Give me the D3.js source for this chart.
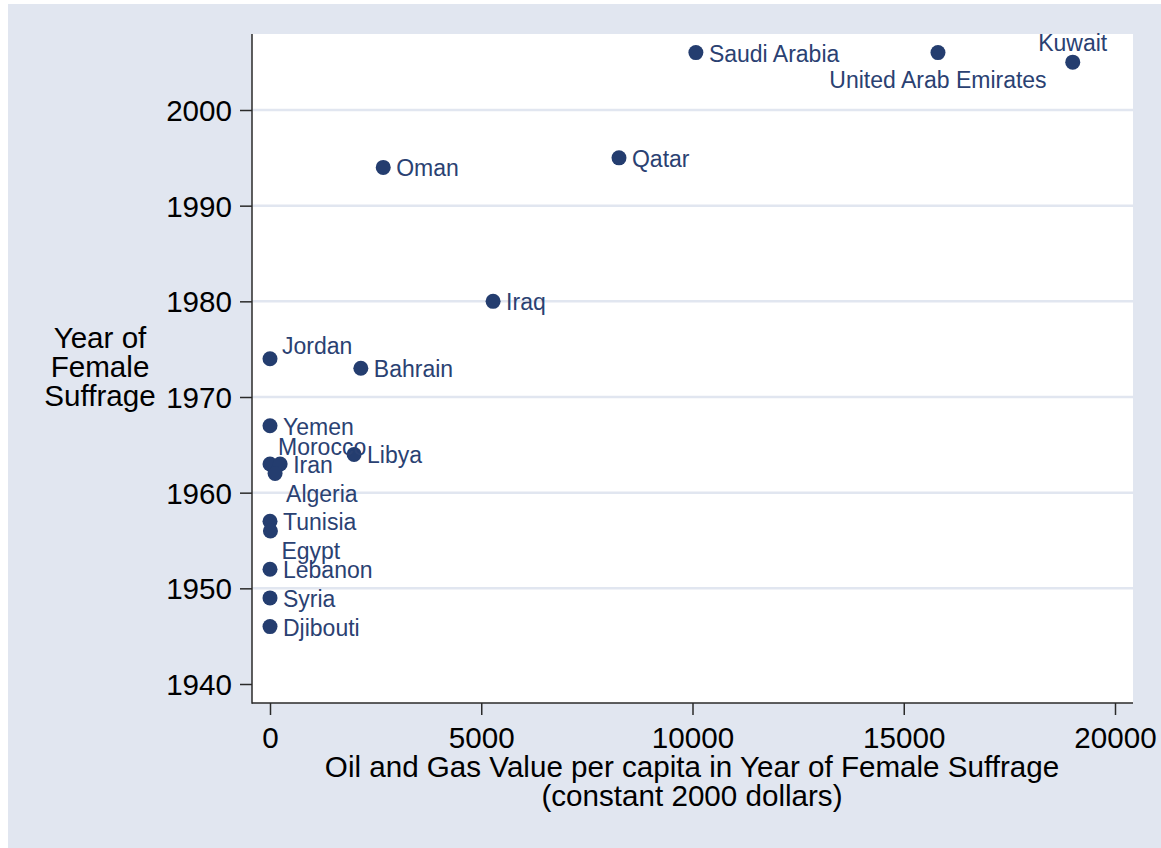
<!DOCTYPE html>
<meta charset="utf-8">
<style>
  body {
    margin: 0;
    background: white;
  }
  svg text {
    font-family: "Liberation Sans", Arial, sans-serif;
  }
  .tick-label, .axis-title {
    font-size: 29.6px;
    fill: #000;
  }
  .mlabel {
    font-size: 23px;
    fill: #2a4172;
  }
</style>
<body>
<svg id="chart" width="1161" height="848"></svg>
<script src="https://cdn.jsdelivr.net/npm/d3@7"></script>
<script>
  // values
  var countries = ["Saudi Arabia", "United Arab Emirates", "Kuwait", "Qatar", "Oman", "Iraq",
    "Jordan", "Bahrain", "Yemen", "Libya", "Morocco", "Iran", "Algeria", "Tunisia", "Egypt",
    "Lebanon", "Syria", "Djibouti"];
  var oilGasValue = [10080, 15810, 19000, 8260, 2680, 5280,
    0, 2150, 0, 1990, 0, 240, 120, 0, 10,
    0, 0, 0];
  var suffrageYear = [2006, 2006, 2005, 1995, 1994, 1980,
    1974, 1973, 1967, 1964, 1963, 1963, 1962, 1957, 1956,
    1952, 1949, 1946];

  var xTicks = [0, 5000, 10000, 15000, 20000];
  var yTicks = [1940, 1950, 1960, 1970, 1980, 1990, 2000];

  // marker label clock positions (Stata style), default 3 o'clock
  var labelClock = {
    "Kuwait": 12, "United Arab Emirates": 6, "Jordan": 2, "Morocco": 1,
    "Algeria": 4, "Egypt": 4
  };
  var clockOffset = {
    3: { dx: 13, dy: 9, anchor: "start" },
    2: { dx: 12, dy: -5, anchor: "start" },
    1: { dx: 8, dy: -9, anchor: "start" },
    4: { dx: 11, dy: 28, anchor: "start" },
    12: { dx: 0, dy: -11, anchor: "middle" },
    6: { dx: 0, dy: 35, anchor: "middle" }
  };

  var bg = "#e1e6f0", ink = "#2a2a2a", navy = "#243d6f";
  var plot = { left: 252, right: 1133, top: 34, bottom: 703 };

  var svg = d3.select("#chart");

  // graph region
  svg.append("rect").attr("x", 8).attr("y", 4).attr("width", 1153).attr("height", 844).attr("fill", bg);
  svg.append("rect")
    .attr("x", plot.left).attr("y", plot.top)
    .attr("width", plot.right - plot.left).attr("height", plot.bottom - plot.top)
    .attr("fill", "white");

  var x = d3.scaleLinear().domain([0, 20000]).range([270, 1115]);
  var y = d3.scaleLinear().domain([1940, 2000]).range([684, 110]);

  // grid lines (none at the lowest tick, like the original)
  svg.append("g").selectAll("line")
    .data(yTicks.slice(1))
    .join("line")
    .attr("x1", plot.left).attr("x2", plot.right)
    .attr("y1", d => y(d)).attr("y2", d => y(d))
    .attr("stroke", bg).attr("stroke-width", 2.5);

  // y axis
  var yAxis = svg.append("g")
    .attr("transform", `translate(${plot.left},0)`)
    .call(d3.axisLeft(y).tickValues(yTicks).tickFormat(d3.format("d")).tickSize(12).tickPadding(8).tickSizeOuter(0));
  yAxis.select(".domain").remove();
  yAxis.selectAll("line").attr("stroke", ink).attr("stroke-width", 1.5);
  yAxis.selectAll("text").attr("class", "tick-label").attr("dy", "0.36em");
  yAxis.attr("font-size", null).attr("font-family", null);

  // x axis
  var xAxis = svg.append("g")
    .attr("transform", `translate(0,${plot.bottom})`)
    .call(d3.axisBottom(x).tickValues(xTicks).tickFormat(d3.format("d")).tickSize(12).tickPadding(12).tickSizeOuter(0));
  xAxis.select(".domain").remove();
  xAxis.selectAll("line").attr("stroke", ink).attr("stroke-width", 1.5);
  xAxis.selectAll("text").attr("class", "tick-label").attr("dy", "0.71em");
  xAxis.attr("font-size", null).attr("font-family", null);

  // axis lines
  svg.append("line").attr("x1", plot.left).attr("x2", plot.left)
    .attr("y1", plot.top).attr("y2", plot.bottom + 0.75)
    .attr("stroke", ink).attr("stroke-width", 1.5);
  svg.append("line").attr("x1", plot.left).attr("x2", plot.right)
    .attr("y1", plot.bottom).attr("y2", plot.bottom)
    .attr("stroke", ink).attr("stroke-width", 1.5);

  // axis titles
  var xTitle = svg.append("text").attr("class", "axis-title").attr("text-anchor", "middle");
  xTitle.append("tspan").attr("x", 692).attr("y", 777).text("Oil and Gas Value per capita in Year of Female Suffrage");
  xTitle.append("tspan").attr("x", 692).attr("y", 806).text("(constant 2000 dollars)");

  var yTitle = svg.append("text").attr("class", "axis-title").attr("text-anchor", "middle");
  ["Year of", "Female", "Suffrage"].forEach(function (t, i) {
    yTitle.append("tspan").attr("x", 100).attr("y", 348 + i * 29).text(t);
  });

  // points
  var data = countries.map((c, i) => ({ name: c, v: oilGasValue[i], yr: suffrageYear[i] }));

  svg.append("g").selectAll("circle")
    .data(data)
    .join("circle")
    .attr("cx", d => x(d.v))
    .attr("cy", d => y(d.yr))
    .attr("r", 7.5)
    .attr("fill", navy);

  svg.append("g").selectAll("text")
    .data(data)
    .join("text")
    .attr("class", "mlabel")
    .each(function (d) {
      var o = clockOffset[labelClock[d.name] || 3];
      d3.select(this)
        .attr("x", x(d.v) + o.dx)
        .attr("y", y(d.yr) + o.dy)
        .attr("text-anchor", o.anchor)
        .text(d.name);
    });
</script>
</body>
